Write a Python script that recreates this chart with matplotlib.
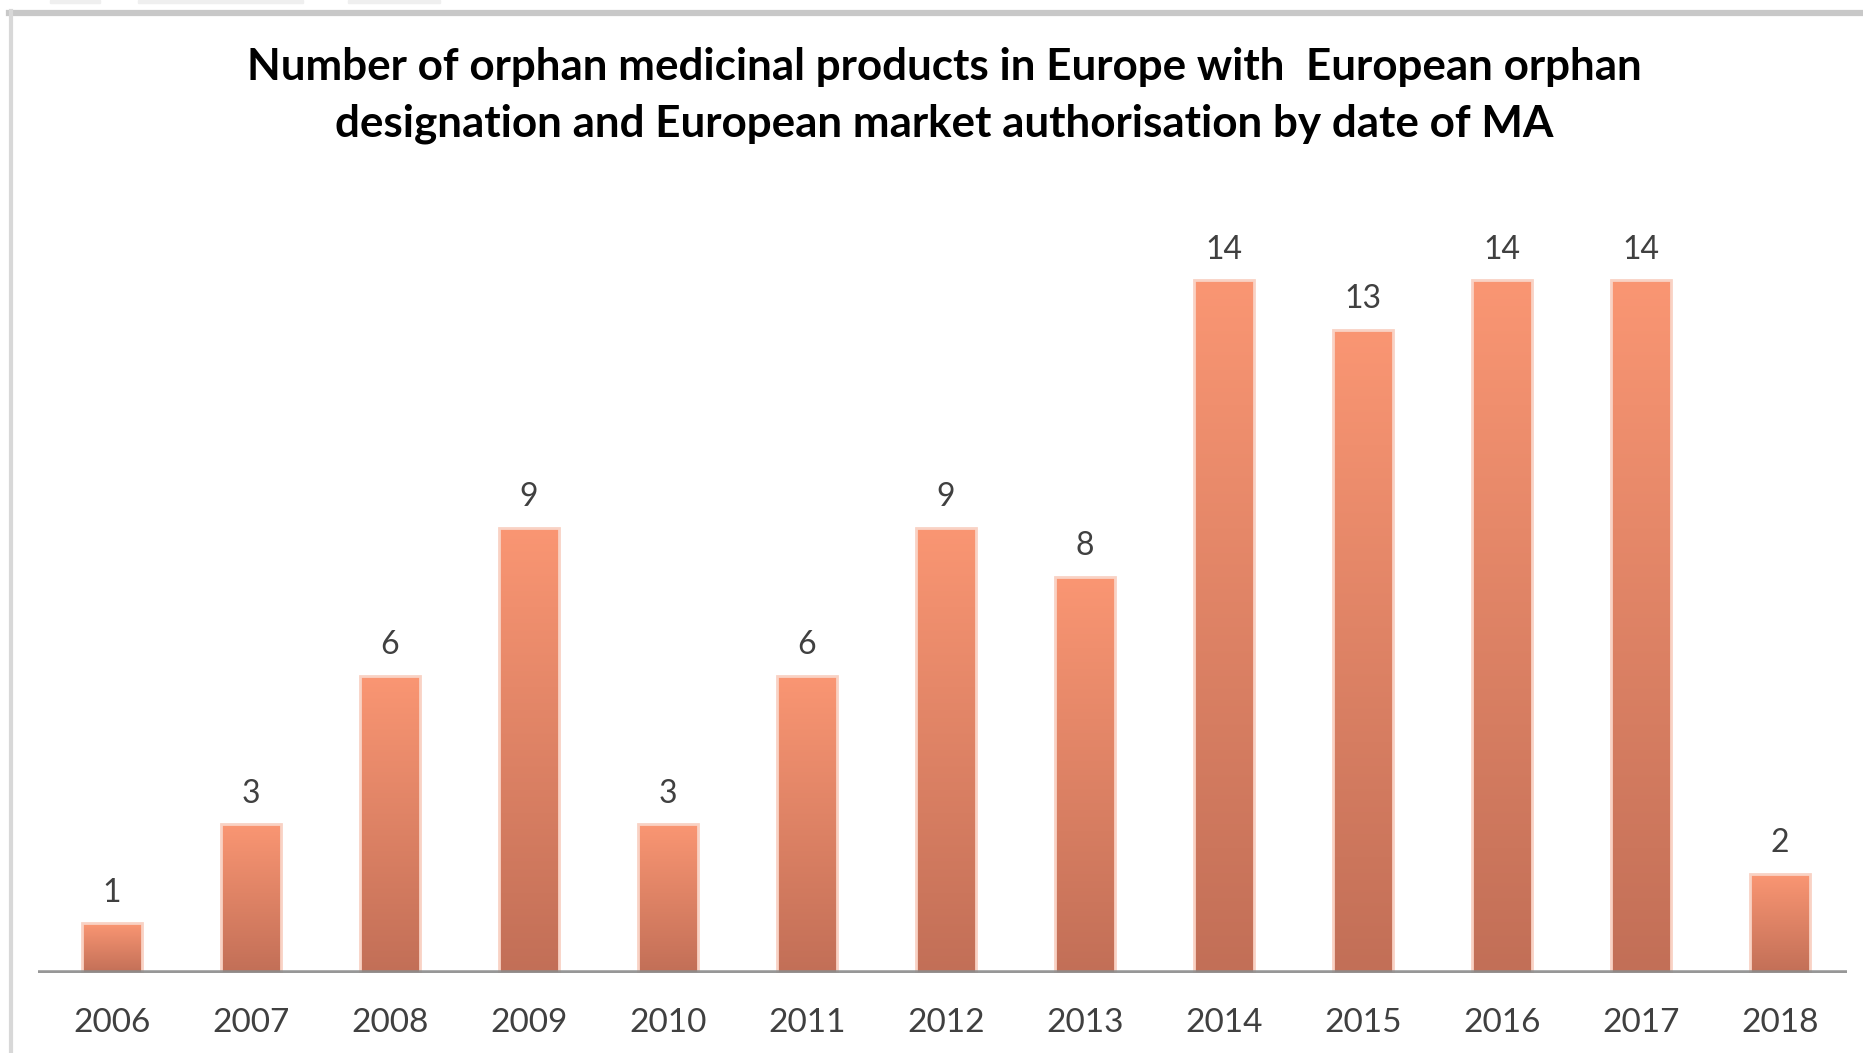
import numpy as np
import matplotlib.pyplot as plt
from matplotlib.colors import LinearSegmentedColormap
from matplotlib.lines import Line2D
from matplotlib.patches import Rectangle

plt.rcParams['font.family'] = ['Lato', 'DejaVu Sans']

# datos
years = ['2006', '2007', '2008', '2009', '2010', '2011', '2012',
         '2013', '2014', '2015', '2016', '2017', '2018']
counts = [1, 3, 6, 9, 3, 6, 9, 8, 14, 13, 14, 14, 2]

title = ('Number of orphan medicinal products in Europe with  European orphan\n'
         'designation and European market authorisation by date of MA')

fig = plt.figure(figsize=(18.63, 10.53), dpi=100)
ax = fig.add_axes([0.0204, 0.076, 0.9709, 0.752])

x = np.arange(len(years))
bars = ax.bar(x, counts, width=0.43, color='none', edgecolor='#F9D2C4',
              linewidth=2.0, zorder=3)

# degradado vertical dentro de cada barra (claro arriba, oscuro abajo)
cmap = LinearSegmentedColormap.from_list('salmon', ['#C26F57', '#FA9673'])
grad = np.linspace(0, 1, 256).reshape(-1, 1)
for b in bars:
    bx, bw, bh = b.get_x(), b.get_width(), b.get_height()
    im = ax.imshow(grad, extent=[bx, bx + bw, 0, bh], origin='lower',
                   aspect='auto', cmap=cmap, zorder=2)
    im.set_clip_path(b)

for xi, v in zip(x, counts):
    ax.annotate(str(v), (xi, v), xytext=(0, 22), textcoords='offset points',
                ha='center', va='center', fontsize=23, color='#404040')

ax.set_xlim(-0.532, 12.48)
ax.set_ylim(0, 16)
ax.axhline(0, color='#8C8C8C', linewidth=4, alpha=0.9, zorder=4)

for s in ax.spines.values():
    s.set_visible(False)
ax.set_yticks([])
ax.set_xticks(x)
ax.set_xticklabels(years, fontsize=24, color='#404040')
ax.tick_params(axis='x', length=0, pad=25)

fig.text(0.507, 0.909, title, ha='center', va='center', fontsize=31.7,
         fontweight='bold', color='black', linespacing=1.5)

# marco gris de la captura
fig.add_artist(Line2D([9 / 1863, 1], [1 - 13 / 1053] * 2, color='#C8C8C8',
                      linewidth=4.5, transform=fig.transFigure))
fig.add_artist(Line2D([11 / 1863] * 2, [0, 1 - 11 / 1053], color='#D8D8D8',
                      linewidth=3, transform=fig.transFigure))
for x0, x1 in [(50, 100), (138, 303), (348, 440)]:
    fig.add_artist(Rectangle((x0 / 1863, 1 - 3 / 1053), (x1 - x0) / 1863,
                             3 / 1053, color='#EFEFEF',
                             transform=fig.transFigure))

fig.savefig('out.png', dpi=100)
plt.close('all')
